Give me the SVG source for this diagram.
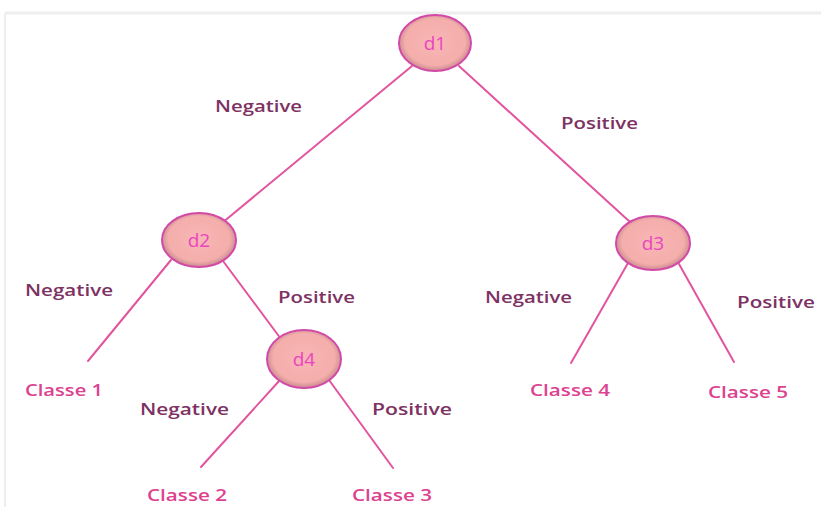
<svg xmlns="http://www.w3.org/2000/svg" width="821" height="507" viewBox="0 0 821 507">
  <style>
    .edge { stroke: #e2559e; stroke-width: 2; fill: none; stroke-linecap: round; }
    .node ellipse { fill: url(#nodeFill); stroke: #d24aa8; stroke-width: 2; }
    .node text { font-family: "Open Sans", "Liberation Sans", sans-serif; font-size: 19px; fill: #ea45c0; text-anchor: middle; }
    .branch { font-family: "Open Sans", "Liberation Sans", sans-serif; font-size: 17px; font-weight: 600; fill: #7d3263; }
    .leaf { font-family: "Open Sans", "Liberation Sans", sans-serif; font-size: 17px; font-weight: 600; fill: #dc4290; }
  </style>
  <defs>
    <radialGradient id="nodeFill" cx="50%" cy="48%" r="52%">
      <stop offset="0%" stop-color="#f8b6b4"/>
      <stop offset="80%" stop-color="#f4aeac"/>
      <stop offset="100%" stop-color="#c98a8e"/>
    </radialGradient>
  </defs>

  <rect width="821" height="507" fill="#ffffff"/>
  <!-- frame edges -->
  <line x1="5" y1="13" x2="821" y2="13" stroke="#eeeeee" stroke-width="3"/>
  <line x1="5" y1="13" x2="5" y2="507" stroke="#eeeeee" stroke-width="2"/>

  <g id="connectors">
    <line class="edge" x1="412" y1="66" x2="222" y2="223"/>
    <line class="edge" x1="459" y1="66" x2="630" y2="222"/>
    <line class="edge" x1="171" y1="260" x2="88" y2="361"/>
    <line class="edge" x1="223" y1="261" x2="281" y2="339"/>
    <line class="edge" x1="280" y1="380" x2="201" y2="467"/>
    <line class="edge" x1="329" y1="380" x2="393" y2="468"/>
    <line class="edge" x1="628" y1="263" x2="571" y2="363"/>
    <line class="edge" x1="679" y1="264" x2="734" y2="362"/>
  </g>

  <g id="node-d1" class="node">
    <ellipse cx="435" cy="43" rx="36" ry="28"/>
    <text x="435" y="50">d1</text>
  </g>
  <g id="node-d2" class="node">
    <ellipse cx="199" cy="240" rx="37" ry="27"/>
    <text x="199" y="247">d2</text>
  </g>
  <g id="node-d3" class="node">
    <ellipse cx="653" cy="243" rx="37" ry="27"/>
    <text x="653" y="250">d3</text>
  </g>
  <g id="node-d4" class="node">
    <ellipse cx="304" cy="359" rx="37" ry="29"/>
    <text x="304" y="366">d4</text>
  </g>

  <g id="branch-labels">
    <text class="branch" x="215" y="112" textLength="87" lengthAdjust="spacingAndGlyphs">Negative</text>
    <text class="branch" x="561" y="129" textLength="77" lengthAdjust="spacingAndGlyphs">Positive</text>
    <text class="branch" x="25" y="296" textLength="88" lengthAdjust="spacingAndGlyphs">Negative</text>
    <text class="branch" x="278" y="303" textLength="77" lengthAdjust="spacingAndGlyphs">Positive</text>
    <text class="branch" x="485" y="303" textLength="87" lengthAdjust="spacingAndGlyphs">Negative</text>
    <text class="branch" x="737" y="308" textLength="78" lengthAdjust="spacingAndGlyphs">Positive</text>
    <text class="branch" x="140" y="415" textLength="89" lengthAdjust="spacingAndGlyphs">Negative</text>
    <text class="branch" x="372" y="415" textLength="80" lengthAdjust="spacingAndGlyphs">Positive</text>
  </g>

  <g id="leaf-labels">
    <text class="leaf" x="25" y="396" textLength="78" lengthAdjust="spacingAndGlyphs">Classe 1</text>
    <text class="leaf" x="147" y="501" textLength="80" lengthAdjust="spacingAndGlyphs">Classe 2</text>
    <text class="leaf" x="352" y="501" textLength="80" lengthAdjust="spacingAndGlyphs">Classe 3</text>
    <text class="leaf" x="530" y="396" textLength="80" lengthAdjust="spacingAndGlyphs">Classe 4</text>
    <text class="leaf" x="708" y="398" textLength="80" lengthAdjust="spacingAndGlyphs">Classe 5</text>
  </g>
</svg>
